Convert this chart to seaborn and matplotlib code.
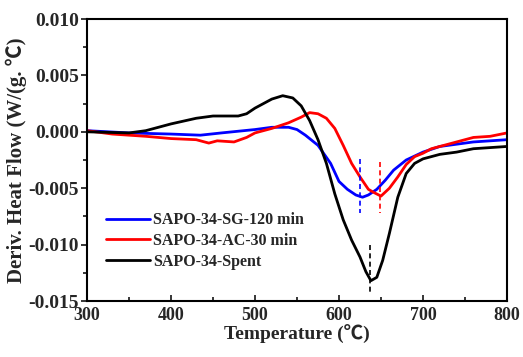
import numpy as np
import pandas as pd
import matplotlib
matplotlib.use("Agg")
import matplotlib.pyplot as plt
import seaborn as sns
from matplotlib.ticker import MultipleLocator

sns.set_style("ticks")
plt.rcParams['font.family'] = ['Liberation Serif', 'Noto Sans CJK SC', 'DejaVu Sans']
plt.rcParams['font.weight'] = 'bold'
plt.rcParams['axes.unicode_minus'] = False

sg_x = [300, 350, 400, 435, 460, 500, 520, 540, 550, 560, 575, 590, 600, 610, 620, 628, 635, 645, 655, 665, 680, 700, 720, 760, 800]
sg_y = [0.0001, -0.0001, -0.0002, -0.0003, -0.0001, 0.0002, 0.0004, 0.0004, 0.0002, -0.0003, -0.0012, -0.0028, -0.0044, -0.0051, -0.0056, -0.0058, -0.0056, -0.0051, -0.0043, -0.0034, -0.0025, -0.0018, -0.0013, -0.0009, -0.0007]

ac_x = [300, 330, 370, 400, 430, 445, 455, 475, 490, 500, 520, 540, 555, 565, 575, 585, 595, 605, 615, 625, 635, 642, 650, 660, 670, 680, 690, 700, 710, 730, 760, 780, 800]
ac_y = [0.0001, -0.0002, -0.0004, -0.0006, -0.0007, -0.0010, -0.0008, -0.0009, -0.0005, -0.0001, 0.0003, 0.0008, 0.0013, 0.0017, 0.0016, 0.0012, 0.0003, -0.0012, -0.0028, -0.0040, -0.0051, -0.0054, -0.0057, -0.0050, -0.0040, -0.0029, -0.0022, -0.0019, -0.0015, -0.0011, -0.0005, -0.0004, -0.0001]

sp_x = [300, 350, 370, 400, 430, 450, 480, 490, 500, 520, 533, 545, 555, 565, 575, 585, 595, 605, 615, 625, 632, 638, 645, 652, 660, 670, 680, 690, 700, 720, 740, 760, 800]
sp_y = [0.0, -0.0001, 0.0001, 0.0007, 0.0012, 0.0014, 0.0014, 0.0016, 0.0021, 0.0029, 0.0032, 0.0030, 0.0023, 0.0010, -0.0007, -0.0028, -0.0055, -0.0078, -0.0096, -0.0111, -0.0124, -0.0132, -0.0129, -0.0114, -0.0090, -0.0058, -0.0037, -0.0028, -0.0024, -0.0020, -0.0018, -0.0015, -0.0013]

names = ["SAPO-34-SG-120 min", "SAPO-34-AC-30 min", "SAPO-34-Spent"]
colors = ["#0000ff", "#ff0000", "#000000"]

# peak markers (x, y_start, y_end)
peak_x = [624.6, 648.4, 636.5]
peak_y0 = [-0.00244, -0.00265, -0.01004]
peak_y1 = [-0.00723, -0.00723, -0.01426]

df = pd.concat([
    pd.DataFrame({"T": sg_x, "H": sg_y, "s": names[0]}),
    pd.DataFrame({"T": ac_x, "H": ac_y, "s": names[1]}),
    pd.DataFrame({"T": sp_x, "H": sp_y, "s": names[2]}),
])

fig = plt.figure(figsize=(5.23, 3.57), dpi=100)
ax = fig.add_axes([87/523, 1 - 301/357, 420/523, 282/357])
sns.lineplot(data=df, x="T", y="H", hue="s", hue_order=names,
             palette=dict(zip(names, colors)), estimator=None, sort=True,
             linewidth=2, ax=ax)

for px, y0, y1, c in zip(peak_x, peak_y0, peak_y1, colors):
    ax.plot([px, px], [y0, y1], color=c, linestyle=(0, (3, 2)), linewidth=1.2)

ax.set_xlim(300, 800)
ax.set_ylim(-0.015, 0.010)
ax.xaxis.set_major_locator(MultipleLocator(100))
ax.xaxis.set_minor_locator(MultipleLocator(50))
ax.yaxis.set_major_locator(MultipleLocator(0.005))
ax.yaxis.set_minor_locator(MultipleLocator(0.0025))
ax.yaxis.set_major_formatter(matplotlib.ticker.FormatStrFormatter('%.3f'))
ax.tick_params(axis='x', which='both', direction='in', labelsize=13, pad=4)
ax.tick_params(axis='x', which='major', length=4, width=1.3)
ax.tick_params(axis='x', which='minor', length=3, width=1.3)
ax.tick_params(axis='y', which='both', direction='out', labelsize=14, pad=2)
ax.tick_params(axis='y', which='major', length=4, width=1.3)
ax.tick_params(axis='y', which='minor', length=3, width=1.3)
for lab in ax.get_xticklabels() + ax.get_yticklabels():
    lab.set_fontweight('bold')
for sp in ax.spines.values():
    sp.set_visible(True)
    sp.set_linewidth(1.5)
    sp.set_color('black')

ax.set_xlabel("Temperature (℃)", fontsize=14, fontweight='bold', labelpad=1)
ax.set_ylabel("Deriv. Heat Flow (W/(g. ℃)", fontsize=15, fontweight='bold', labelpad=1)

leg = ax.legend(loc='lower left', bbox_to_anchor=(0.01, 0.06), frameon=False,
                prop={'weight': 'bold', 'size': 11.5}, handlelength=2.8,
                handletextpad=0.2, labelspacing=0.3)
leg.set_title(None)

fig.savefig("out.png", dpi=100)
